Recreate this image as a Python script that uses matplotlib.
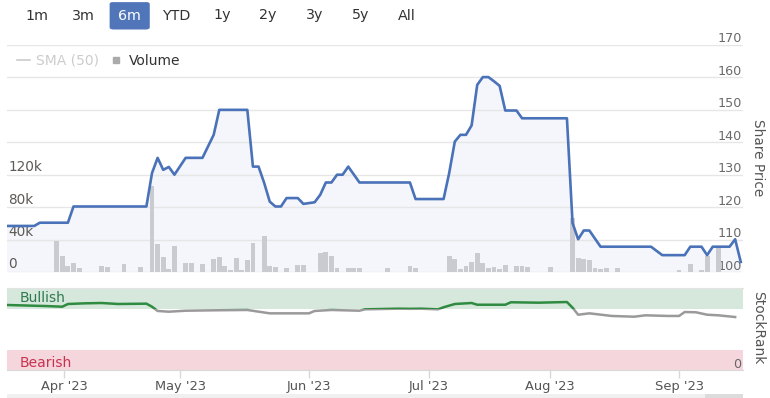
import numpy as np
import matplotlib
matplotlib.use('Agg')
import matplotlib.pyplot as plt
from matplotlib.patches import Rectangle, FancyBboxPatch
from matplotlib.lines import Line2D
from matplotlib.transforms import ScaledTranslation, blended_transform_factory

plt.rcParams['font.family'] = ['DejaVu Sans']

# ---------------- data ----------------
ORIGIN = '2023-04-03'   # ordinal (trading-day) axis origin

price_dates = ['2023-03-17', '2023-03-24', '2023-03-27', '2023-04-03', '2023-04-04',
               '2023-04-21', '2023-04-24', '2023-04-25', '2023-04-26', '2023-04-27',
               '2023-04-28', '2023-05-02', '2023-05-05', '2023-05-09', '2023-05-10',
               '2023-05-17', '2023-05-18', '2023-05-19', '2023-05-22', '2023-05-23',
               '2023-05-24', '2023-05-25', '2023-05-26', '2023-05-30', '2023-05-31',
               '2023-06-02', '2023-06-05', '2023-06-06', '2023-06-07', '2023-06-08',
               '2023-06-09', '2023-06-12', '2023-06-14', '2023-06-27', '2023-06-28',
               '2023-07-05', '2023-07-06', '2023-07-07', '2023-07-10', '2023-07-11',
               '2023-07-12', '2023-07-13', '2023-07-14', '2023-07-17', '2023-07-18',
               '2023-07-19', '2023-07-20', '2023-07-24', '2023-07-25', '2023-08-04',
               '2023-08-07', '2023-08-08', '2023-08-09', '2023-08-10', '2023-08-14',
               '2023-08-25', '2023-08-29', '2023-09-04', '2023-09-05', '2023-09-07',
               '2023-09-08', '2023-09-11', '2023-09-14', '2023-09-15', '2023-09-18']
price_values = [114.2, 114.2, 115.2, 115.2, 120.2,
                120.2, 130.5, 135.2, 131.5, 132.4,
                130.0, 135.2, 135.2, 142.3, 150.0,
                150.0, 132.5, 132.5, 127.5, 121.7,
                120.2, 120.2, 122.8, 122.8, 121.0,
                121.5, 123.8, 127.6, 127.6, 130.0,
                130.0, 132.5, 127.6, 127.6, 122.5,
                122.5, 130.5, 140.2, 142.3, 142.3,
                145.2, 157.7, 160.1, 160.1, 158.8,
                157.4, 149.8, 149.8, 147.4, 147.4,
                115.1, 110.1, 112.8, 112.8, 107.8,
                107.8, 105.2, 105.2, 107.8, 107.8,
                105.2, 107.8, 107.8, 110.1, 103.1]

volume_dates = ['2023-03-30', '2023-03-31', '2023-04-03', '2023-04-04', '2023-04-05',
                '2023-04-11', '2023-04-12', '2023-04-17', '2023-04-20', '2023-04-24',
                '2023-04-25', '2023-04-26', '2023-04-27', '2023-04-28', '2023-05-02',
                '2023-05-03', '2023-05-05', '2023-05-09', '2023-05-10', '2023-05-11',
                '2023-05-12', '2023-05-15', '2023-05-16', '2023-05-17', '2023-05-18',
                '2023-05-22', '2023-05-23', '2023-05-24', '2023-05-26', '2023-05-30',
                '2023-05-31', '2023-06-05', '2023-06-06', '2023-06-07', '2023-06-08',
                '2023-06-12', '2023-06-13', '2023-06-14', '2023-06-21', '2023-06-27',
                '2023-06-28', '2023-07-06', '2023-07-07', '2023-07-10', '2023-07-11',
                '2023-07-12', '2023-07-13', '2023-07-14', '2023-07-17', '2023-07-18',
                '2023-07-19', '2023-07-20', '2023-07-24', '2023-07-25', '2023-07-26',
                '2023-08-01', '2023-08-07', '2023-08-08', '2023-08-09', '2023-08-10',
                '2023-08-11', '2023-08-14', '2023-08-15', '2023-08-17', '2023-09-01',
                '2023-09-05', '2023-09-07', '2023-09-08', '2023-09-12']
volume_values = [38000, 20000, 7000, 11000, 5000,
                 7000, 6000, 10000, 6000, 106000,
                 34500, 18500, 3300, 32000, 10500,
                 11000, 9500, 15600, 18000, 7400,
                 3000, 17000, 3000, 14800, 35400,
                 44400, 7400, 5800, 4500, 9000,
                 9000, 23000, 24700, 19700, 5000,
                 4500, 4500, 4500, 4500, 7400,
                 4500, 19700, 16400, 3300, 7400,
                 12700, 23000, 10700, 4500, 5800,
                 4000, 9000, 7400, 7400, 5800,
                 5800, 67000, 17700, 16000, 14800,
                 4500, 3700, 5300, 5300, 3000,
                 10000, 3000, 19700, 29000]

rank_dates = ['2023-03-17', '2023-03-28', '2023-03-31', '2023-04-03', '2023-04-06',
              '2023-04-11', '2023-04-14', '2023-04-21', '2023-04-24', '2023-04-25',
              '2023-04-27', '2023-05-02', '2023-05-09', '2023-05-17', '2023-05-23',
              '2023-06-01', '2023-06-02', '2023-06-07', '2023-06-14', '2023-06-15',
              '2023-06-23', '2023-06-27', '2023-06-29', '2023-07-04', '2023-07-05',
              '2023-07-07', '2023-07-12', '2023-07-13', '2023-07-20', '2023-07-21',
              '2023-07-28', '2023-08-04', '2023-08-07', '2023-08-08', '2023-08-10',
              '2023-08-16', '2023-08-22', '2023-08-24', '2023-08-30', '2023-09-01',
              '2023-09-04', '2023-09-06', '2023-09-08', '2023-09-12', '2023-09-15']
rank_values = [79.3, 78.0, 77.2, 80.5, 81.3,
               81.7, 80.5, 80.9, 77.2, 72.0,
               71.1, 72.3, 72.8, 73.2, 69.1,
               69.1, 72.0, 73.2, 72.3, 74.0,
               74.8, 74.6, 74.8, 74.0, 76.5,
               80.5, 81.7, 79.6, 79.6, 82.6,
               82.1, 82.9, 76.0, 67.4, 69.1,
               65.9, 65.0, 66.7, 65.9, 65.9,
               70.7, 70.4, 67.4, 66.7, 64.6]

month_ticks = ['2023-04-01', '2023-05-01', '2023-06-01', '2023-07-01', '2023-08-01', '2023-09-01']
month_labels = ["Apr '23", "May '23", "Jun '23", "Jul '23", "Aug '23", "Sep '23"]

price_ticks = [100, 110, 120, 130, 140, 150, 160, 170]
volume_ticks = [0, 40000, 80000, 120000]
volume_tick_labels = ['0', '40k', '80k', '120k']
volume_axis_max = 280000

bullish_min = 75
bearish_max = 25
rank_ticks = [0]

range_buttons = ['1m', '3m', '6m', 'YTD', '1y', '2y', '3y', '5y', 'All']
selected_button = '6m'
legend_labels = ['SMA (50)', 'Volume']


def to_ord(d):
    """Position on an ordinal (weekday-only) axis; weekends interpolated."""
    d = np.datetime64(d, 'D')
    if np.is_busday(d):
        return float(np.busday_count(ORIGIN, d))
    prev = np.busday_offset(d, 0, roll='backward')
    nxt = np.busday_offset(d, 0, roll='forward')
    frac = (d - prev).astype(int) / (nxt - prev).astype(int)
    return float(np.busday_count(ORIGIN, prev)) + frac


px_ = np.array([to_ord(d) for d in price_dates])
vx_ = np.array([to_ord(d) for d in volume_dates])
rx_ = np.array([to_ord(d) for d in rank_dates])
mx_ = [to_ord(d) for d in month_ticks]

# ---------------- layout ----------------
W, H = 770, 398
fig = plt.figure(figsize=(W / 100, H / 100), dpi=100)
fig.patch.set_facecolor('white')


def px_box(x0, y0, x1, y1):
    return [x0 / W, 1 - y1 / H, (x1 - x0) / W, (y1 - y0) / H]


def shift_labels(labels, dy_px, ha):
    for lbl in labels:
        lbl.set_ha(ha)
        lbl.set_va('baseline')
        lbl.set_transform(lbl.get_transform() +
                          ScaledTranslation(0, dy_px / 100, fig.dpi_scale_trans))


XLIM = (-10.86, 120.4)
GRID = '#e6e6e6'
LINE_BLUE = '#4a72b8'

ax_p = fig.add_axes(px_box(7, 45, 743, 272))
ax_v = ax_p.twinx()
ax_l = ax_p.twinx()

# price axis (grid, fill, right labels)
ax_p.set_xlim(*XLIM)
ax_p.set_ylim(price_ticks[0], price_ticks[-1])
for s in ax_p.spines.values():
    s.set_visible(False)
ax_p.set_xticks([])
ax_p.yaxis.tick_right()
ax_p.set_yticks(price_ticks)
ax_p.grid(axis='y', color=GRID, lw=1.0)
ax_p.tick_params(axis='y', length=0, pad=-1, labelsize=9.2, labelcolor='#6a6a6a')
ax_p.fill_between(px_, price_values, price_ticks[0], color='#f4f6fb', lw=0, zorder=1)
shift_labels(ax_p.get_yticklabels(), 2.5, 'right')
ax_p.yaxis.set_label_position('right')
ax_p.set_ylabel('Share Price', rotation=-90, fontsize=9.8, color='#555555')
ax_p.yaxis.set_label_coords((758 - 7) / 736, (272 - 158) / 227)
ax_p.yaxis.label.set_va('center')
ax_p.yaxis.label.set_ha('center')

# volume
ax_v.set_xlim(*XLIM)
ax_v.set_ylim(0, volume_axis_max)
for s in ax_v.spines.values():
    s.set_visible(False)
ax_v.bar(vx_, volume_values, width=0.86, color='#c9cbd0', lw=0, zorder=2)
ax_v.yaxis.tick_left()
ax_v.set_yticks(volume_ticks, volume_tick_labels)
ax_v.tick_params(axis='y', length=0, pad=-1, labelsize=9.8, labelcolor='#5e5a55')
shift_labels(ax_v.get_yticklabels(), 3.5, 'left')

# price line
ax_l.set_xlim(*XLIM)
ax_l.set_ylim(price_ticks[0], price_ticks[-1])
ax_l.axis('off')
ax_l.plot(px_, price_values, color=LINE_BLUE, lw=1.9, solid_joinstyle='round', zorder=3)

handles = [Line2D([], [], color='#cccccc', lw=1.2),
           Line2D([], [], marker='s', ls='none', color='#aaaaaa', markersize=4.5)]
leg = ax_l.legend(handles, legend_labels, loc='center left',
                  bbox_to_anchor=(17 / W, 1 - 61 / H), bbox_transform=fig.transFigure,
                  ncol=2, frameon=False, fontsize=10, handlelength=0.95,
                  handletextpad=0.45, columnspacing=0.75, borderaxespad=0, borderpad=0)
leg.get_texts()[0].set_color('#cccccc')
leg.get_texts()[1].set_color('#333333')

# ---------------- StockRank panel ----------------
ax_r = fig.add_axes(px_box(7, 288, 743, 370))
ax_r.set_xlim(*XLIM)
ax_r.set_ylim(0, 100)
for k in ['left', 'right']:
    ax_r.spines[k].set_visible(False)
ax_r.spines['top'].set_color('#e3e3e3')
ax_r.spines['bottom'].set_color('#d8d8d8')
ax_r.axhspan(bullish_min, 100, color='#d6e8dc', lw=0, zorder=0)
ax_r.axhspan(0, bearish_max, color='#f5d6dc', lw=0, zorder=0)

tr = blended_transform_factory(ax_r.transAxes, ax_r.transData)
ax_r.text(13 / 736, (bullish_min + 100) / 2 + 0.5, 'Bullish', transform=tr, fontsize=10,
          color='#2f7a50', va='center', ha='left', zorder=1)
ax_r.text(13 / 736, bearish_max / 2 - 4, 'Bearish', transform=tr, fontsize=10,
          color='#c8324f', va='center', ha='left', zorder=1)

gray_line, = ax_r.plot(rx_, rank_values, color='#9a9a9a', lw=1.8, zorder=3)
green_line, = ax_r.plot(rx_, rank_values, color='#2e8b40', lw=1.8, zorder=4)
clip_hi = Rectangle((XLIM[0], bullish_min), XLIM[1] - XLIM[0], 100, transform=ax_r.transData)
clip_lo = Rectangle((XLIM[0], -10), XLIM[1] - XLIM[0], bullish_min + 10, transform=ax_r.transData)
green_line.set_clip_path(clip_hi)
gray_line.set_clip_path(clip_lo)

ax_r.set_xticks(mx_, month_labels)
ax_r.tick_params(axis='x', length=6, width=1, color='#d8d8d8', pad=1.5,
                 labelsize=9.4, labelcolor='#555555')
ax_r.yaxis.tick_right()
ax_r.set_yticks(rank_ticks)
ax_r.tick_params(axis='y', length=0, pad=-1, labelsize=9.2, labelcolor='#666666')
shift_labels(ax_r.get_yticklabels(), 2.5, 'right')
ax_r.yaxis.set_label_position('right')
ax_r.set_ylabel('StockRank', rotation=-90, fontsize=10, color='#555555')
ax_r.yaxis.set_label_coords((758 - 7) / 736, (370 - 328) / 82)
ax_r.yaxis.label.set_va('center')
ax_r.yaxis.label.set_ha('center')

# ---------------- range selector ----------------
for i, b in enumerate(range_buttons):
    cx = 37.3 + i * 46.17
    if b == selected_button:
        fig.add_artist(FancyBboxPatch(((cx - 18.5) / W, 1 - 28.5 / H), 37 / W, 25.5 / H,
                                      boxstyle='round,pad=0.0015,rounding_size=0.004',
                                      transform=fig.transFigure, facecolor='#5075b9',
                                      edgecolor='#5075b9', lw=0.5))
        col = 'white'
    else:
        col = '#333333'
    fig.text(cx / W, 1 - 15.5 / H, b, ha='center', va='center', fontsize=10.3, color=col)

# navigator strip at the bottom
fig.add_artist(Rectangle((7 / W, 0), 736 / W, 4 / H, transform=fig.transFigure,
                         facecolor='#f0f0f0', edgecolor='none'))
fig.add_artist(Rectangle((705 / W, 0), 38 / W, 4 / H, transform=fig.transFigure,
                         facecolor='#dcdcdc', edgecolor='none'))

fig.savefig('out.png', dpi=100, facecolor='white')
